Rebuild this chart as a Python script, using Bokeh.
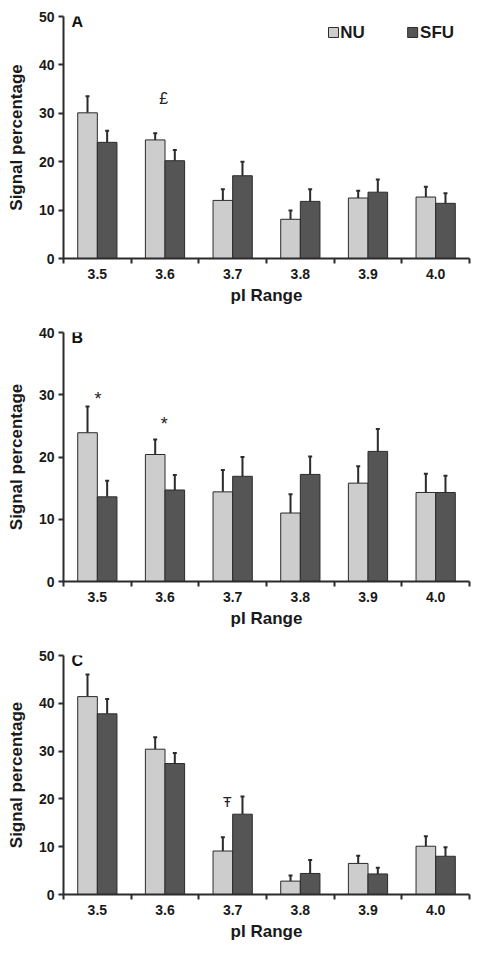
from bokeh.plotting import figure
from bokeh.layouts import column
from bokeh.models import Range1d, FixedTicker, ColumnDataSource, Whisker, TeeHead, Label
from bokeh.embed import file_html
from bokeh.resources import INLINE

categories = ["3.5", "3.6", "3.7", "3.8", "3.9", "4.0"]

a_nu = [30.1, 24.5, 12.0, 8.1, 12.5, 12.7]
a_nu_err = [33.5, 25.9, 14.3, 9.9, 14.0, 14.8]
a_sfu = [24.0, 20.2, 17.1, 11.8, 13.7, 11.4]
a_sfu_err = [26.4, 22.4, 20.0, 14.3, 16.3, 13.5]

b_nu = [23.9, 20.4, 14.4, 11.0, 15.8, 14.3]
b_nu_err = [28.1, 22.8, 17.9, 14.0, 18.5, 17.3]
b_sfu = [13.6, 14.7, 16.9, 17.2, 20.9, 14.3]
b_sfu_err = [16.2, 17.1, 20.0, 20.1, 24.5, 17.0]

c_nu = [41.4, 30.4, 9.1, 2.8, 6.5, 10.1]
c_nu_err = [46.0, 32.9, 12.0, 4.0, 8.1, 12.2]
c_sfu = [37.8, 27.4, 16.8, 4.4, 4.3, 8.0]
c_sfu_err = [40.9, 29.6, 20.5, 7.2, 5.6, 9.9]

legend_labels = ["NU", "SFU"]

NU_COLOR = "#cdcdcd"
SFU_COLOR = "#555555"
EDGE = "#2b2b2b"
TXT = "#1a1a1a"
FONT = "Liberation Sans"
BAR_W = 0.29


def panel(letter, nu, nu_err, sfu, sfu_err, ymax, width, height,
          border_top, border_bottom, border_right, marks, legend=False):
    n = len(categories)
    p = figure(width=width, height=height, output_backend="svg", toolbar_location=None,
               x_range=Range1d(0, n), y_range=Range1d(0, ymax),
               min_border_left=63, min_border_right=border_right,
               min_border_top=border_top, min_border_bottom=border_bottom)
    p.outline_line_color = None
    p.grid.grid_line_color = None
    p.background_fill_color = "white"

    idx = list(range(n))
    x_nu = [i + 0.5 - BAR_W / 2 for i in idx]
    x_sfu = [i + 0.5 + BAR_W / 2 for i in idx]
    src_nu = ColumnDataSource(dict(x=x_nu, top=nu, err=nu_err))
    src_sfu = ColumnDataSource(dict(x=x_sfu, top=sfu, err=sfu_err))

    for src in (src_nu, src_sfu):
        p.add_layout(Whisker(source=src, base="x", lower="top", upper="err",
                             line_color=EDGE, line_width=2,
                             upper_head=TeeHead(size=4, line_color=EDGE, line_width=2),
                             lower_head=None, level="underlay"))
    p.vbar(x="x", top="top", bottom=0, width=BAR_W, source=src_nu,
           fill_color=NU_COLOR, line_color=EDGE, line_width=1)
    p.vbar(x="x", top="top", bottom=0, width=BAR_W, source=src_sfu,
           fill_color=SFU_COLOR, line_color=EDGE, line_width=1)

    # x axis: tick marks at category boundaries, labels at centres
    xa = p.xaxis[0]
    xa.ticker = FixedTicker(ticks=[i + 0.5 for i in idx], minor_ticks=list(range(n + 1)))
    xa.major_label_overrides = {i + 0.5: c for i, c in enumerate(categories)}
    xa.major_tick_line_color = None
    xa.minor_tick_in = 0
    xa.minor_tick_out = 5
    xa.minor_tick_line_color = EDGE
    xa.minor_tick_line_width = 2
    xa.axis_line_color = EDGE
    xa.axis_line_width = 2
    xa.major_label_text_font = FONT
    xa.major_label_text_font_style = "bold"
    xa.major_label_text_font_size = "14px"
    xa.major_label_text_color = TXT
    xa.major_label_standoff = 4
    xa.axis_label = "pI Range"
    xa.axis_label_text_font = FONT
    xa.axis_label_text_font_style = "bold"
    xa.axis_label_text_font_size = "17px"
    xa.axis_label_text_color = TXT
    xa.axis_label_standoff = 4

    ya = p.yaxis[0]
    ya.ticker = FixedTicker(ticks=list(range(0, ymax + 1, 10)), minor_ticks=[])
    ya.major_tick_in = 0
    ya.major_tick_out = 5
    ya.major_tick_line_color = EDGE
    ya.major_tick_line_width = 2
    ya.axis_line_color = EDGE
    ya.axis_line_width = 2
    ya.major_label_text_font = FONT
    ya.major_label_text_font_style = "bold"
    ya.major_label_text_font_size = "14px"
    ya.major_label_text_color = TXT
    ya.major_label_standoff = 4
    ya.axis_label = "Signal percentage"
    ya.axis_label_text_font = FONT
    ya.axis_label_text_font_style = "bold"
    ya.axis_label_text_font_size = "17px"
    ya.axis_label_text_color = TXT
    ya.axis_label_standoff = 10

    p.add_layout(Label(x=8, y=ymax, x_units="screen", text=letter,
                       text_font=FONT, text_font_style="bold", text_font_size="16px",
                       text_color="#111111", text_baseline="top", y_offset=4))

    for (txt, xv, yv, size) in marks:
        p.add_layout(Label(x=xv, y=yv, text=txt, text_font=FONT, text_font_size=size,
                           text_color="#222222", text_align="center",
                           text_baseline="middle"))

    if legend:
        src_leg = ColumnDataSource(dict(x=[3.99, 5.16], y=[ymax * 0.934, ymax * 0.934],
                                        c=[NU_COLOR, SFU_COLOR]))
        p.scatter(x="x", y="y", marker="square", size=10, fill_color="c",
                  line_color=EDGE, line_width=1, source=src_leg)
        for xv, t in zip((4.09, 5.27), legend_labels):
            p.add_layout(Label(x=xv, y=ymax * 0.934, text=t, text_font=FONT,
                               text_font_style="bold", text_font_size="17px",
                               text_color=TXT, text_baseline="middle"))
    return p


pa = panel("A", a_nu, a_nu_err, a_sfu, a_sfu_err, 50, 502, 310, 16, 52, 33,
           [("£", 1.5 - 0.02, 33.0, "16px")], legend=True)
pb = panel("B", b_nu, b_nu_err, b_sfu, b_sfu_err, 40, 502, 330, 22, 59, 27,
           [("*", 0.5 + 0.01, 29.3, "18px"), ("*", 1.5 - 0.01, 25.3, "18px")])
pc = panel("C", c_nu, c_nu_err, c_sfu, c_sfu_err, 50, 502, 312, 15, 58, 11,
           [("Ŧ", 2.5 - 0.08, 19.3, "14px")])

layout = column(pa, pb, pc, spacing=0)
open("out.html", "w").write(file_html(layout, INLINE))
